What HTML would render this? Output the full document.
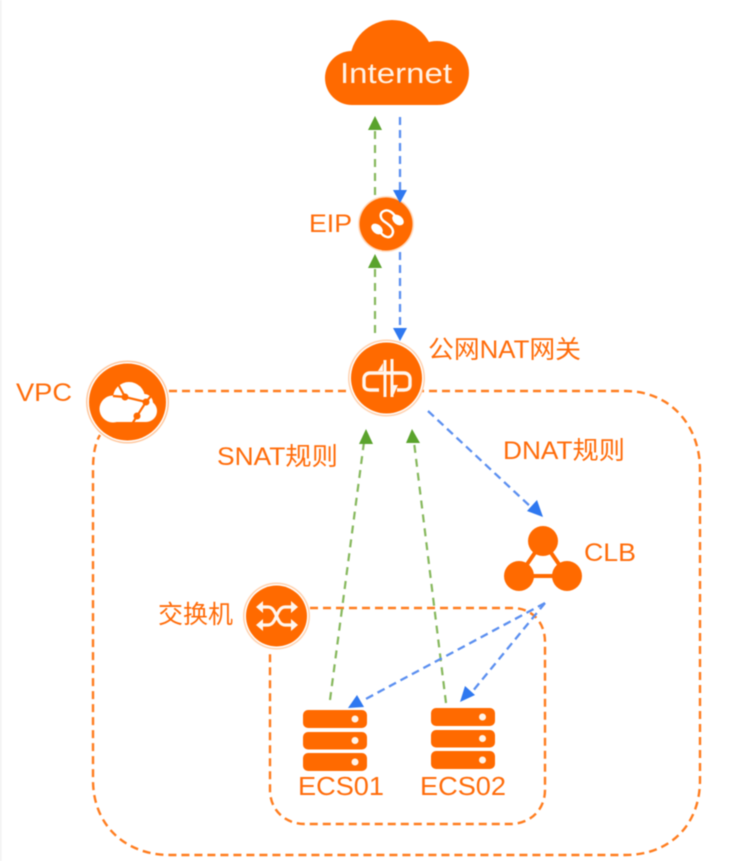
<!DOCTYPE html>
<html lang="zh">
<head>
<meta charset="utf-8">
<title>NAT Gateway Diagram</title>
<style>
html,body{margin:0;padding:0;background:#fff;width:730px;height:861px;overflow:hidden}
svg{display:block;filter:blur(.5px)}
text{font-family:"Liberation Sans","Noto Sans CJK SC",sans-serif;fill:#ff6c0a}
</style>
</head>
<body>
<svg width="730" height="861" viewBox="0 0 730 861" xmlns="http://www.w3.org/2000/svg">
<rect width="730" height="861" fill="#fff"/>
<rect x="0" y="0" width="1.5" height="861" fill="#f0f0f0"/>

<!-- VPC and switch dashed boundaries -->
<g fill="none" stroke="#ff7d1f" stroke-width="2.4" stroke-dasharray="8 5">
<path d="M169 391H625C670 391 700 425 700 470V780C700 825 670 855 625 855H170C125 855 93 825 93 780V470C93 455 95 443 100 435"/>
<path d="M310 608H512C532 608 545 622 545 642V790C545 810 530 824 510 824H305C285 824 270 810 270 790V650"/>
</g>

<!-- Cloud -->
<g fill="#ff6a00">
<circle cx="392" cy="62" r="42"/>
<circle cx="352" cy="78" r="27"/>
<circle cx="437" cy="73" r="32"/>
<rect x="352" y="70" width="85" height="35"/>
</g>
<text x="340" y="83" style="fill:#fff2e6" font-size="29" textLength="112" lengthAdjust="spacingAndGlyphs">Internet</text>

<!-- EIP -->
<circle cx="386" cy="224" r="28" fill="#ffd9bd"/>
<circle cx="386" cy="224" r="26.500" fill="#ff6a00"/>
<path d="M397 219C393 212 388 209 384 211C379 213 380 219 385 222C391 226 395 230 392 235C389 239 384 237 379 231" fill="none" stroke="#fff" stroke-width="2.5"/>
<ellipse cx="398" cy="220" rx="6.500" ry="4.500" transform="rotate(40 398 220)" fill="#fff"/>
<ellipse cx="377" cy="229" rx="6.500" ry="4.500" transform="rotate(40 377 229)" fill="#fff"/>
<text x="309" y="232" font-size="25" textLength="43" lengthAdjust="spacingAndGlyphs">EIP</text>

<!-- NAT gateway -->
<circle cx="386.5" cy="378" r="38.5" fill="#ffd2b0"/>
<circle cx="386.5" cy="378" r="37" fill="#fff"/>
<circle cx="386.5" cy="378" r="35.5" fill="#ff6a00"/>
<g fill="none" stroke="#fff6ee" stroke-width="3.4">
<path d="M381 373H370C366 373 364 376 364 379V385C364 388 366 390 370 390H379"/>
<path d="M381 373H404C408 373 410 376 410 379V385C410 388 408 390 404 390H397"/>
<path d="M385 360V397M392 359V397" stroke-width="3"/>
</g>
<g fill="#fff6ee"><path d="M378 371L383 363V371Z"/><path d="M398 385L393 396V385Z"/></g>
<text x="428" y="358" font-size="25" textLength="153" lengthAdjust="spacingAndGlyphs">公网NAT网关</text>

<!-- VPC -->
<circle cx="127.500" cy="402" r="41.500" fill="#ffc89f"/>
<circle cx="127.500" cy="402" r="40" fill="#fff"/>
<circle cx="127.500" cy="402" r="38.500" fill="#ff6a00"/>
<g fill="#fff">
<circle cx="113" cy="409" r="13.500"/>
<circle cx="129" cy="398" r="16"/>
<circle cx="146" cy="411" r="11"/>
<circle cx="144" cy="403" r="9"/>
<rect x="113" y="405" width="33" height="17"/>
</g>
<g stroke="#ff6a00" stroke-width="2.200" fill="none"><path d="M117 382L125 397L146 402L137 416L132 424M125 397L113 396M146 402L151 396"/></g>
<circle cx="125" cy="397" r="3.500" fill="#ff6a00"/>
<circle cx="146" cy="402" r="3.500" fill="#ff6a00"/>
<circle cx="137" cy="416" r="3.500" fill="#ff6a00"/>
<text x="16" y="401" font-size="25" textLength="56" lengthAdjust="spacingAndGlyphs">VPC</text>

<text x="217" y="465" font-size="25" textLength="121" lengthAdjust="spacingAndGlyphs">SNAT规则</text>
<text x="503" y="459" font-size="25" textLength="122" lengthAdjust="spacingAndGlyphs">DNAT规则</text>

<!-- CLB -->
<path d="M543 541L519 576H567Z" fill="none" stroke="#ff6a00" stroke-width="4"/>
<circle cx="543" cy="541" r="15" fill="#ff6a00"/>
<circle cx="519" cy="576" r="15" fill="#ff6a00"/>
<circle cx="567" cy="576" r="15" fill="#ff6a00"/>
<text x="584" y="561" font-size="25" textLength="52" lengthAdjust="spacingAndGlyphs">CLB</text>

<!-- Switch -->
<circle cx="276.500" cy="616" r="33.500" fill="#ffd2b0"/>
<circle cx="276.500" cy="616" r="32" fill="#fff"/>
<circle cx="276.500" cy="616" r="30.500" fill="#ff6a00"/>
<g fill="none" stroke="#fff6ee" stroke-width="3.2">
<path d="M260 607H268C277 607 276 625 285 625H294"/>
<path d="M260 625H268C277 625 276 607 285 607H294"/>
</g>
<g fill="#fff6ee">
<path d="M256 607L263 601V613Z"/><path d="M298 607L291 601V613Z"/>
<path d="M256 625L263 619V631Z"/><path d="M298 625L291 619V631Z"/>
</g>
<text x="158" y="623" font-size="25" textLength="75" lengthAdjust="spacingAndGlyphs">交换机</text>

<!-- ECS -->
<g fill="#ff6a00">
<rect x="303" y="710" width="64" height="18" rx="5"/>
<rect x="303" y="732" width="64" height="17.500" rx="5"/>
<rect x="303" y="753" width="64" height="18" rx="5"/>
<rect x="431" y="708" width="64" height="18" rx="5"/>
<rect x="431" y="730" width="64" height="17.500" rx="5"/>
<rect x="431" y="751" width="64" height="18" rx="5"/>
</g>
<g fill="#fff3e8">
<circle cx="355" cy="719" r="3.500"/>
<circle cx="355" cy="740.500" r="3.500"/>
<circle cx="355" cy="762" r="3.500"/>
<circle cx="482.500" cy="717" r="3.500"/>
<circle cx="482.500" cy="738.500" r="3.500"/>
<circle cx="482.500" cy="760" r="3.500"/>
</g>
<text x="298" y="795" font-size="26" textLength="86" lengthAdjust="spacingAndGlyphs">ECS01</text>
<text x="420" y="795" font-size="26" textLength="86" lengthAdjust="spacingAndGlyphs">ECS02</text>

<!-- Green dashed connectors -->
<g stroke="#86b85c" stroke-width="2.2" stroke-dasharray="8 6" fill="none">
<path d="M375 195V128"/>
<path d="M375 333V266"/>
<path d="M330 700L364 442"/>
<path d="M446 703L414 442"/>
</g>
<g fill="#5aa32c">
<path d="M375 116L382 130H368Z"/>
<path d="M375 254L382 268H368Z"/>
<path d="M366 429L373 444H359Z"/>
<path d="M412 429L420 443H406Z"/>
</g>

<!-- Blue dashed connectors -->
<g stroke="#5b8ff0" stroke-width="2.3" stroke-dasharray="8 5" fill="none">
<path d="M400 117V190"/>
<path d="M400 252V328"/>
<path d="M428 411L532 508"/>
<path d="M545 603L362 701"/>
<path d="M545 603L472 692"/>
</g>
<g fill="#2f78f0">
<path d="M400 203L393 190H407Z"/>
<path d="M400 341L393 328H407Z"/>
<path d="M543 517L527 511L537 500Z"/>
<path d="M348 708L357 695L364 707Z"/>
<path d="M460 702L465 686L475 695Z"/>
</g>
</svg>
</body>
</html>
